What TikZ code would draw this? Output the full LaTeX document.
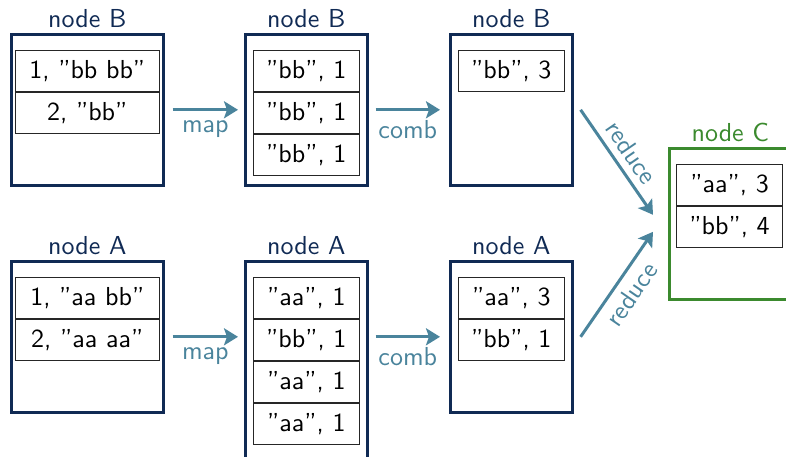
\documentclass[tikz,border=0pt]{standalone}
\usepackage{fontspec}
\setsansfont{lmsans10-regular.otf}[Ligatures=TeX]
\usetikzlibrary{positioning,arrows.meta}

\definecolor{boxblue}{HTML}{102A54}
\definecolor{flowteal}{HTML}{4A849C}
\definecolor{resgreen}{HTML}{3B8A2E}

\newcommand{\slidefont}{\fontsize{26}{30}\selectfont\sffamily}

\tikzset{
  machine/.style={draw=boxblue, line width=2.6pt, minimum height=151, inner sep=0pt},
  wide/.style={machine, minimum width=152},
  narrow/.style={machine, minimum width=122},
  result/.style={narrow, draw=resgreen},
  title/.style={font=\slidefont, text=boxblue, inner sep=2pt},
  entry/.style={draw=black!85, line width=1.1pt, minimum height=41, inner sep=0pt, font=\slidefont},
  wentry/.style={entry, minimum width=144},
  nentry/.style={entry, minimum width=106},
  flow/.style={draw=flowteal, line width=3pt, -{Stealth[length=14pt,width=17pt,inset=3pt]}},
  op/.style={font=\slidefont, text=flowteal, inner sep=4pt}
}

\begin{document}
\begin{tikzpicture}[x=1pt,y=-1pt]
  \useasboundingbox (0,0) rectangle (786,456);
  \clip (0,0) rectangle (786,456);

  % node B row
  \node[wide, anchor=north west] (b1) at (10,33) {};
  \node[narrow, anchor=north west] (b2) at (244,33) {};
  \node[narrow, anchor=north west] (b3) at (449,33) {};
  \node[title, above=3pt of b1] (tb1) {node B};
  \node[title, above=3pt of b2] (tb2) {node B};
  \node[title, above=3pt of b3] (tb3) {node B};

  \node[wentry, anchor=north] (b11) at ([yshift=-17]b1.north) {1, ''bb bb''};
  \node[wentry, below=0pt of b11] (b12) {2, ''bb''};

  \node[nentry, anchor=north] (b21) at ([yshift=-17]b2.north) {''bb'', 1};
  \node[nentry, below=0pt of b21] (b22) {''bb'', 1};
  \node[nentry, below=0pt of b22] (b23) {''bb'', 1};

  \node[nentry, anchor=north] (b31) at ([yshift=-17]b3.north) {''bb'', 3};

  % node A row
  \node[wide, anchor=north west] (a1) at (10,260) {};
  \node[narrow, anchor=north west, minimum height=210] (a2) at (244,260) {};
  \node[narrow, anchor=north west] (a3) at (449,260) {};
  \node[title, above=3pt of a1] (ta1) {node A};
  \node[title, above=3pt of a2] (ta2) {node A};
  \node[title, above=3pt of a3] (ta3) {node A};

  \node[wentry, anchor=north] (a11) at ([yshift=-17]a1.north) {1, ''aa bb''};
  \node[wentry, below=0pt of a11] (a12) {2, ''aa aa''};

  \node[nentry, anchor=north] (a21) at ([yshift=-17]a2.north) {''aa'', 1};
  \node[nentry, below=0pt of a21] (a22) {''bb'', 1};
  \node[nentry, below=0pt of a22] (a23) {''aa'', 1};
  \node[nentry, below=0pt of a23] (a24) {''aa'', 1};

  \node[nentry, anchor=north] (a31) at ([yshift=-17]a3.north) {''aa'', 3};
  \node[nentry, below=0pt of a31] (a32) {''bb'', 1};

  % node C
  \node[result, anchor=north west] (c) at (668,147) {};
  \node[title, text=resgreen, above=3pt of c] (tc) {node C};
  \node[nentry, anchor=north west] (c1) at ([xshift=8,yshift=-17]c.north west) {''aa'', 3};
  \node[nentry, below=0pt of c1] (c2) {''bb'', 4};

  % map / combine / reduce
  \draw[flow] ([xshift=8]b1.east) -- ([xshift=-6]b2.west) node[op, midway, below=5pt] {map};
  \draw[flow] ([xshift=7]b2.east) -- ([xshift=-9]b3.west) node[op, midway, below=5pt] {comb};
  \draw[flow] ([xshift=8]a1.east) -- ([xshift=-6]b2.west |- a1.east) node[op, midway, below=5pt] {map};
  \draw[flow] ([xshift=7]a2.east |- a1.east) -- ([xshift=-9]a3.west) node[op, midway, below=5pt] {comb};
  \draw[flow] ([xshift=7]b3.east) -- ([xshift=-15,yshift=9]c.west) node[op, midway, above=3pt, sloped] {reduce};
  \draw[flow] ([xshift=7]a3.east) -- ([xshift=-15,yshift=-8]c.west) node[op, midway, below=3pt, sloped] {reduce};
\end{tikzpicture}
\end{document}
